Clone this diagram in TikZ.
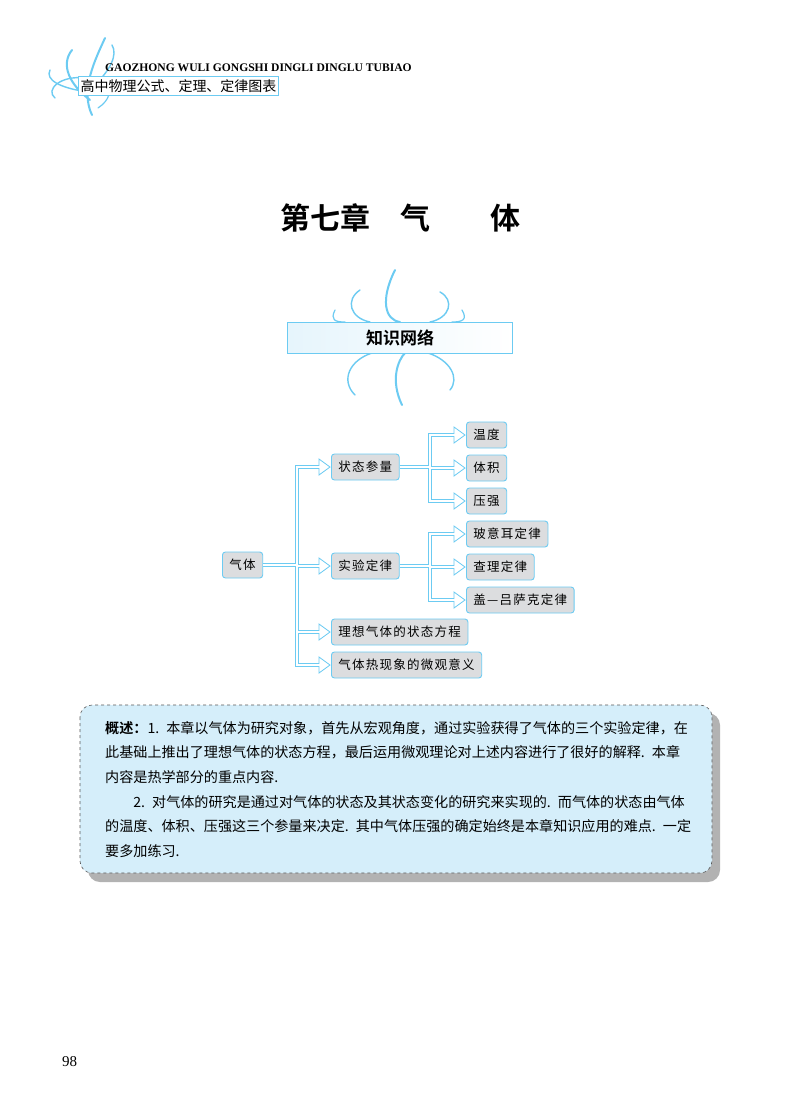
\documentclass[tikz,border=0pt]{standalone}
\usepackage{fontspec}
\usetikzlibrary{arrows.meta,calc}
\newfontfamily\cjk{Noto Sans CJK SC}
\newfontfamily\cjkn{Noto Sans CJK SC}[LetterSpace=10]
\newfontfamily\cjkb{Noto Sans CJK SC}[BoldFont={* Bold}]
\setmainfont{Liberation Serif}
\definecolor{lb}{HTML}{6CCBF2}
\definecolor{nodegray}{HTML}{DCDDDF}
\definecolor{boxblue}{HTML}{D5EEFA}
\newcommand{\sline}[1]{\noindent #1\par}
\tikzset{
  tn/.style={draw=lb,line width=0.9pt,fill=nodegray,rounded corners=3pt,font=\cjkn\fontsize{12.5}{13}\selectfont,minimum height=26pt,inner xsep=7pt,anchor=west},
  outer/.style={lb,line width=4.4pt},
  inner/.style={white,line width=2.8pt},
  head/.style={lb,fill=white,line width=0.8pt,line join=miter},
  fl/.style={lb,line width=2pt,line cap=round},
}
\newcommand{\branch}[2]{%
  \draw[outer] (#1) |- ($(#2.west)+(-10,0)$);
  \draw[inner] (#1) |- ($(#2.west)+(-9,0)$);
  \draw[head] ($(#2.west)+(-11,-8)$) -- ($(#2.west)+(-1,0)$) -- ($(#2.west)+(-11,8)$) -- cycle;
  \draw[white,line width=2.8pt] ($(#2.west)+(-12,0)$) -- ($(#2.west)+(-10.2,0)$);}
\begin{document}
\begin{tikzpicture}[x=1pt,y=-1pt]
\useasboundingbox (0,0) rectangle (800,1120);
\fill[white] (0,0) rectangle (800,1120);
% header flourish
\draw[fl] (92,115) .. controls (80,90) and (95,60) .. (105,38);
\draw[fl] (90,100) .. controls (70,85) and (60,65) .. (72,50);
\draw[fl,line width=1.4pt] (88,92) .. controls (60,88) and (45,80) .. (50,70);
\draw[fl,line width=1.4pt] (95,85) .. controls (110,70) and (118,55) .. (112,45);
\draw[fl,line width=1.4pt] (85,78) .. controls (60,75) and (45,90) .. (55,98);
\draw[fl,line width=1.2pt] (98,108) .. controls (110,100) and (112,90) .. (105,85);
\node[font=\bfseries\fontsize{11.6}{12}\selectfont,anchor=west,inner sep=0] (hdr) at (105,68) {GAOZHONG WULI GONGSHI DINGLI DINGLU TUBIAO};
\node[draw=lb,line width=1pt,fill=white,font=\cjk\fontsize{14}{15}\selectfont,anchor=west,inner xsep=2pt,inner ysep=0pt,minimum height=19pt] (hsub) at (78,86) {高中物理公式、定理、定律图表};
% title
\node[font=\cjkb\bfseries\fontsize{30}{32}\selectfont] (title) at (400,218) {第七章\hspace{1em}气\hspace{2em}体};
% banner flourish
\draw[fl] (395,270) .. controls (380,300) and (385,320) .. (400,322);
\draw[fl] (402,405) .. controls (390,380) and (398,360) .. (405,353);
\draw[fl,line width=1.4pt] (360,290) .. controls (345,300) and (350,318) .. (370,322);
\draw[fl,line width=1.4pt] (440,292) .. controls (455,300) and (450,318) .. (430,322);
\draw[fl,line width=1.4pt] (355,395) .. controls (340,380) and (350,360) .. (372,353);
\draw[fl,line width=1.4pt] (450,390) .. controls (460,378) and (450,360) .. (428,353);
\draw[fl,line width=1.2pt] (335,310) .. controls (330,320) and (335,322) .. (345,322);
\draw[fl,line width=1.2pt] (462,310) .. controls (468,320) and (462,322) .. (452,322);
\node[draw=lb,line width=1.2pt,left color=boxblue!60,right color=white,minimum width=225pt,minimum height=31pt,font=\cjkb\bfseries\fontsize{17}{18}\selectfont] (banner) at (400,338) {知识网络};
% tree nodes
\node[tn] (gas) at (222,565) {气体};
\node[tn] (zt) at (331,467) {状态参量};
\node[tn] (sy) at (331,566) {实验定律};
\node[tn] (lx) at (331,632) {理想气体的状态方程};
\node[tn] (wg) at (331,665) {气体热现象的微观意义};
\node[tn] (wd) at (466,435) {温度};
\node[tn] (tj) at (466,468) {体积};
\node[tn] (yq) at (466,501) {压强};
\node[tn] (by) at (466,534) {玻意耳定律};
\node[tn] (cl) at (466,567) {查理定律};
\node[tn] (gl) at (466,600) {盖—吕萨克定律};
% connectors
\coordinate (j1) at (297,565);
\coordinate (j2) at (430,467);
\coordinate (j3) at (430,566);
\draw[outer] (gas.east) -- (j1);
\draw[outer] (zt.east) -- (j2);
\draw[outer] (sy.east) -- (j3);
\foreach \t in {zt,sy,lx,wg}{\draw[outer] (j1) |- ($(\t.west)+(-10,0)$);}
\foreach \t in {wd,tj,yq}{\draw[outer] (j2) |- ($(\t.west)+(-10,0)$);}
\foreach \t in {by,cl,gl}{\draw[outer] (j3) |- ($(\t.west)+(-10,0)$);}
\draw[inner] (gas.east) -- (j1);
\draw[inner] (zt.east) -- (j2);
\draw[inner] (sy.east) -- (j3);
\foreach \t in {zt,sy,lx,wg}{\draw[inner] (j1) |- ($(\t.west)+(-9,0)$);}
\foreach \t in {wd,tj,yq}{\draw[inner] (j2) |- ($(\t.west)+(-9,0)$);}
\foreach \t in {by,cl,gl}{\draw[inner] (j3) |- ($(\t.west)+(-9,0)$);}
\foreach \t in {zt,sy,lx,wg,wd,tj,yq,by,cl,gl}{
  \draw[head] ($(\t.west)+(-12,-8)$) -- ($(\t.west)+(-1,0)$) -- ($(\t.west)+(-12,8)$) -- cycle;
  \draw[white,line width=2.8pt] ($(\t.west)+(-13,0)$) -- ($(\t.west)+(-11.3,0)$);}
% summary box
\fill[gray!60] (88,713) [rounded corners=12pt] rectangle (720,882);
\draw[gray!70!black,dashed,line width=0.6pt,fill=boxblue,rounded corners=12pt] (80,705) rectangle (712,873);
\node[anchor=north west,inner sep=0,font=\cjk\fontsize{14.1}{24.6}\selectfont,text width=600pt,align=left] (sum) at (105,721) {%
\sline{{\cjkb\bfseries 概述：}1. 本章以气体为研究对象，首先从宏观角度，通过实验获得了气体的三个实验定律，在}
\sline{此基础上推出了理想气体的状态方程，最后运用微观理论对上述内容进行了很好的解释. 本章}
\sline{内容是热学部分的重点内容.}
\sline{\hspace{2em}2. 对气体的研究是通过对气体的状态及其状态变化的研究来实现的. 而气体的状态由气体}
\sline{的温度、体积、压强这三个参量来决定. 其中气体压强的确定始终是本章知识应用的难点. 一定}
\sline{要多加练习.}};
\node[font=\fontsize{15}{16}\selectfont,anchor=west,inner sep=0] (pg) at (62,1062) {98};
\end{tikzpicture}
\end{document}
